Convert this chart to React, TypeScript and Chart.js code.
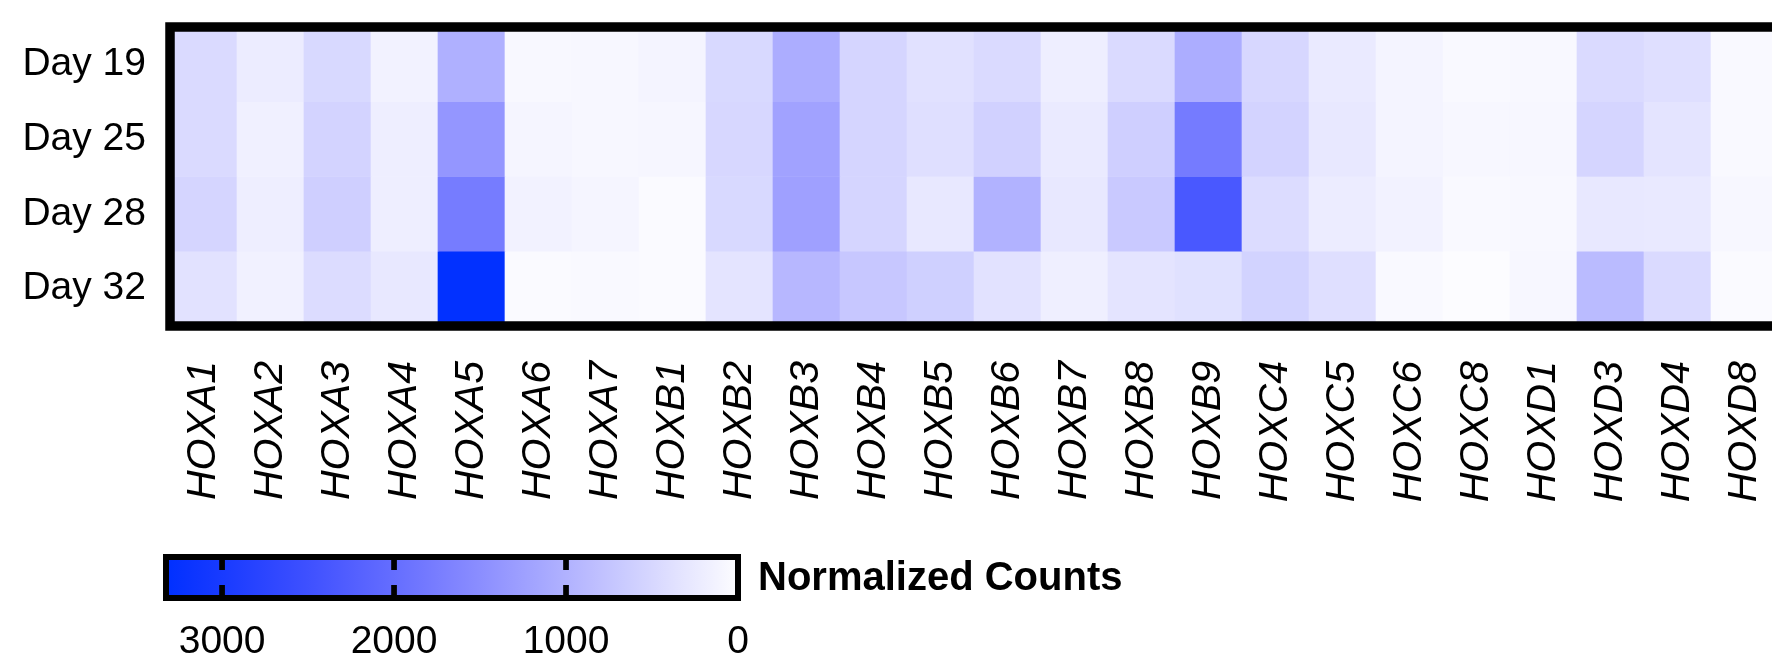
import React, { useEffect, useRef } from "react";
import { Chart, registerables } from "chart.js";

Chart.register(...registerables);

// ---- data ----
const genes = [
  "HOXA1", "HOXA2", "HOXA3", "HOXA4", "HOXA5", "HOXA6", "HOXA7",
  "HOXB1", "HOXB2", "HOXB3", "HOXB4", "HOXB5", "HOXB6", "HOXB7", "HOXB8", "HOXB9",
  "HOXC4", "HOXC5", "HOXC6", "HOXC8",
  "HOXD1", "HOXD3", "HOXD4", "HOXD8",
];
const days = ["Day 19", "Day 25", "Day 28", "Day 32"];
const day19 = [460, 220, 480, 140, 1030, 65, 80, 115, 480, 1060, 530, 370, 455, 195, 455, 1065, 500, 250, 115, 55, 65, 455, 390, 55];
const day25 = [460, 170, 550, 195, 1380, 100, 80, 90, 500, 1215, 530, 390, 585, 250, 610, 1790, 550, 270, 115, 80, 85, 530, 335, 55];
const day28 = [530, 195, 610, 200, 1770, 140, 100, 40, 480, 1240, 530, 270, 1000, 270, 690, 2360, 430, 220, 145, 55, 65, 280, 260, 75];
const day32 = [350, 155, 430, 270, 3300, 40, 55, 40, 335, 925, 715, 600, 350, 180, 330, 375, 560, 400, 55, 15, 75, 880, 455, 40];
const colorbarTicks = [3000, 2000, 1000, 0];
const colorbarMax = 3326;
const colorbarTitle = "Normalized Counts";

const FONT = '"Liberation Sans", Arial, Helvetica, sans-serif';

function colorFor(v: number): string {
  const t = Math.max(0, Math.min(1, v / colorbarMax));
  const r = 253 * (1 - t);
  const g = r + 48 * Math.pow(t, 3.4);
  return `rgb(${Math.round(r)},${Math.round(g)},255)`;
}

const W = 1772;
const COLW = 67;

export default function App() {
  const heatRef = useRef<HTMLCanvasElement | null>(null);
  const barRef = useRef<HTMLCanvasElement | null>(null);

  useEffect(() => {
    const rows = [day19, day25, day28, day32];

    const borderPlugin = {
      id: "heatBorder",
      afterDatasetsDraw(chart: any) {
        const { ctx, chartArea } = chart;
        const { left, top, right, bottom } = chartArea;
        ctx.save();
        ctx.strokeStyle = "#000";
        ctx.lineWidth = 9.5;
        ctx.lineJoin = "miter";
        ctx.beginPath();
        ctx.moveTo(right + 30, top);
        ctx.lineTo(left, top);
        ctx.lineTo(left, bottom);
        ctx.lineTo(right + 30, bottom);
        ctx.stroke();
        ctx.restore();
      },
    };

    const heat = new Chart(heatRef.current as HTMLCanvasElement, {
      type: "bar",
      data: {
        datasets: rows.map((vals, r) => ({
          label: days[r],
          data: vals.map((v, i) => ({ x: i, y: [r, r + 1] })) as any,
          backgroundColor: vals.map(colorFor),
          borderWidth: 0,
          grouped: false,
          barPercentage: 1,
          categoryPercentage: 1,
        })),
      },
      options: {
        responsive: false,
        animation: false,
        layout: { padding: { top: 27, left: 0, right: 0, bottom: 0 } },
        plugins: { legend: { display: false }, tooltip: { enabled: false } },
        scales: {
          x: {
            type: "linear",
            min: -0.5,
            max: -0.5 + (W - 170) / COLW,
            offset: false,
            afterBuildTicks: (s: any) => {
              s.ticks = genes.map((_, i) => ({ value: i }));
            },
            afterFit: (s: any) => {
              s.height = 520 - 326;
              s.paddingLeft = 0;
              s.paddingRight = 0;
            },
            grid: { display: false, drawTicks: false },
            border: { display: false },
            ticks: {
              autoSkip: false,
              minRotation: 90,
              maxRotation: 90,
              padding: 35,
              color: "#000",
              font: { family: FONT, size: 41, style: "italic" },
              callback: (v: any) => genes[Math.round(Number(v))] ?? "",
            },
          },
          y: {
            type: "linear",
            min: 0,
            max: 4,
            reverse: true,
            afterBuildTicks: (s: any) => {
              s.ticks = days.map((_, i) => ({ value: i + 0.5 }));
            },
            afterFit: (s: any) => {
              s.width = 170;
              s.paddingTop = 0;
              s.paddingBottom = 0;
            },
            grid: { display: false, drawTicks: false },
            border: { display: false },
            ticks: {
              padding: 24,
              color: "#000",
              font: { family: FONT, size: 39 },
              callback: (v: any) => days[Math.floor(Number(v))] ?? "",
            },
          },
        },
      } as any,
      plugins: [borderPlugin],
    });

    const colorbarPlugin = {
      id: "colorbar",
      beforeDatasetsDraw(chart: any) {
        const { ctx, chartArea } = chart;
        const { left, top, right, bottom } = chartArea;
        const xs = chart.scales.x;
        const x0 = xs.getPixelForValue(0);
        const x1 = xs.getPixelForValue(colorbarMax);
        ctx.save();
        const g = ctx.createLinearGradient(x0, 0, x1, 0);
        for (let k = 0; k <= 20; k++) {
          const t = k / 20;
          g.addColorStop(t, colorFor(t * colorbarMax));
        }
        ctx.fillStyle = g;
        ctx.fillRect(left, top, right - left, bottom - top);
        ctx.strokeStyle = "#000";
        ctx.lineWidth = 6;
        ctx.strokeRect(left, top, right - left, bottom - top);
        ctx.lineWidth = 5.7;
        ctx.beginPath();
        colorbarTicks.forEach((v) => {
          if (v <= 0 || v >= colorbarMax) return;
          const px = xs.getPixelForValue(v);
          ctx.moveTo(px, top);
          ctx.lineTo(px, top + 13);
          ctx.moveTo(px, bottom - 13);
          ctx.lineTo(px, bottom);
        });
        ctx.stroke();
        ctx.fillStyle = "#000";
        ctx.font = `bold 40px ${FONT}`;
        ctx.textAlign = "left";
        ctx.textBaseline = "alphabetic";
        ctx.fillText(colorbarTitle, right + 20, 50);
        ctx.restore();
      },
    };

    const bar = new Chart(barRef.current as HTMLCanvasElement, {
      type: "bar",
      data: { datasets: [] },
      options: {
        responsive: false,
        animation: false,
        layout: { padding: { left: 166, right: W - 738, top: 17, bottom: 0 } },
        plugins: { legend: { display: false }, tooltip: { enabled: false } },
        scales: {
          x: {
            type: "linear",
            min: 0,
            max: colorbarMax,
            reverse: true,
            offset: false,
            afterBuildTicks: (s: any) => {
              s.ticks = colorbarTicks.map((v) => ({ value: v }));
            },
            afterFit: (s: any) => {
              s.height = 130 - 58;
              s.paddingLeft = 0;
              s.paddingRight = 0;
            },
            grid: { display: false, drawTicks: false, offset: false },
            border: { display: false },
            ticks: {
              autoSkip: false,
              maxRotation: 0,
              minRotation: 0,
              padding: 21,
              color: "#000",
              font: { family: FONT, size: 39 },
              callback: (v: any) => String(v),
            },
          },
          y: { display: false, min: 0, max: 1 },
        },
      } as any,
      plugins: [colorbarPlugin],
    });

    return () => {
      heat.destroy();
      bar.destroy();
    };
  }, []);

  return (
    <div style={{ position: "fixed", left: 0, top: 0, width: W, height: 670, background: "#fff" }}>
      <canvas
        ref={heatRef}
        width={W}
        height={520}
        style={{ position: "absolute", left: 0, top: 0, width: W, height: 520, display: "block" }}
      />
      <canvas
        ref={barRef}
        width={W}
        height={130}
        style={{ position: "absolute", left: 0, top: 540, width: W, height: 130, display: "block" }}
      />
    </div>
  );
}
